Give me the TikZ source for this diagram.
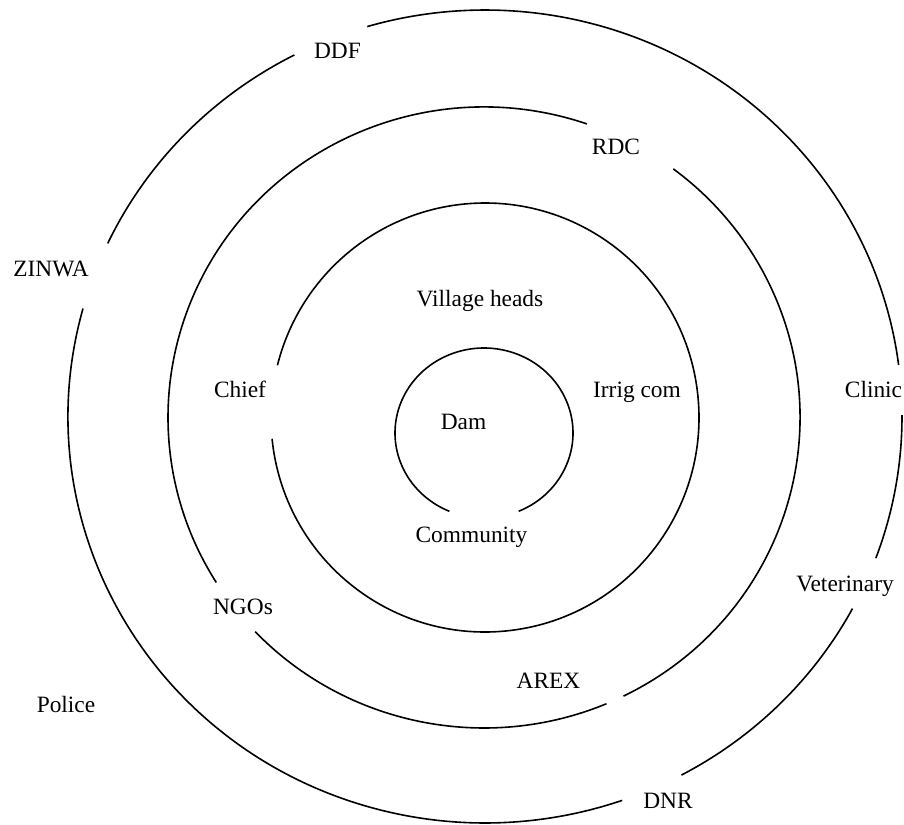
\documentclass[tikz,border=0pt]{standalone}
\usepackage{fontspec}
\setmainfont{Liberation Serif}
\usepackage{tikz}

\begin{document}
\begin{tikzpicture}
[every node/.style={inner sep=0pt, anchor=base, font=\fontsize{23.4}{28}\selectfont},
 ring/.style={line width=1.6pt, color=black}]
\useasboundingbox (0pt, 0pt) rectangle (904pt, -824pt);
\coordinate (outer) at (485pt, -416.5pt);
\coordinate (third) at (484pt, -417.5pt);
\coordinate (second) at (485pt, -417.5pt);
\coordinate (inner) at (484pt, -433pt);
% outer ring
\draw [ring] (outer) ++(7.3:417pt and 406.5pt) arc [start angle=7.3, end angle=106.4, x radius=417pt, y radius=406.5pt];
\draw [ring] (outer) ++(117.2:417pt and 406.5pt) arc [start angle=117.2, end angle=154.8, x radius=417pt, y radius=406.5pt];
\draw [ring] (outer) ++(164.6:417pt and 406.5pt) arc [start angle=164.6, end angle=289.2, x radius=417pt, y radius=406.5pt];
\draw [ring] (outer) ++(-61.9:417pt and 406.5pt) arc [start angle=-61.9, end angle=-28.2, x radius=417pt, y radius=406.5pt];
\draw [ring] (outer) ++(-20.4:417pt and 406.5pt) arc [start angle=-20.4, end angle=0.2, x radius=417pt, y radius=406.5pt];
% third ring
\draw [ring] (third) ++(71:316pt and 310.5pt) arc [start angle=71, end angle=212.1, x radius=316pt, y radius=310.5pt];
\draw [ring] (third) ++(223.6:316pt and 310.5pt) arc [start angle=223.6, end angle=292.8, x radius=316pt, y radius=310.5pt];
\draw [ring] (third) ++(296.2:316pt and 310.5pt) arc [start angle=296.2, end angle=413.2, x radius=316pt, y radius=310.5pt];
% second ring
\draw [ring] (second) ++(185.7:214pt and 214.5pt) arc [start angle=185.7, end angle=525.9, x radius=214pt, y radius=214.5pt];
% inner ring
\draw [ring] (inner) ++(-67.1:89pt and 85pt) arc [start angle=-67.1, end angle=247.1, x radius=89pt, y radius=85pt];
% labels
\node (ddf) at (337.5pt, -58.3pt) {DDF};
\node (zinwa) at (51pt, -276.7pt) {ZINWA};
\node (village) at (480pt, -306.7pt) {Village heads};
\node (rdc) at (616pt, -154pt) {RDC};
\node (chief) at (240pt, -397.7pt) {Chief};
\node (irrig) at (637pt, -397.7pt) {Irrig com};
\node (clinic) at (873.5pt, -397.7pt) {Clinic};
\node (dam) at (463.5pt, -429pt) {Dam};
\node (community) at (471.5pt, -542pt) {Community};
\node (ngos) at (243pt, -614.7pt) {NGOs};
\node (veterinary) at (845pt, -591.3pt) {Veterinary};
\node (arex) at (548.5pt, -688pt) {AREX};
\node (police) at (66pt, -712pt) {Police};
\node (dnr) at (668pt, -808.7pt) {DNR};
\end{tikzpicture}
\end{document}
